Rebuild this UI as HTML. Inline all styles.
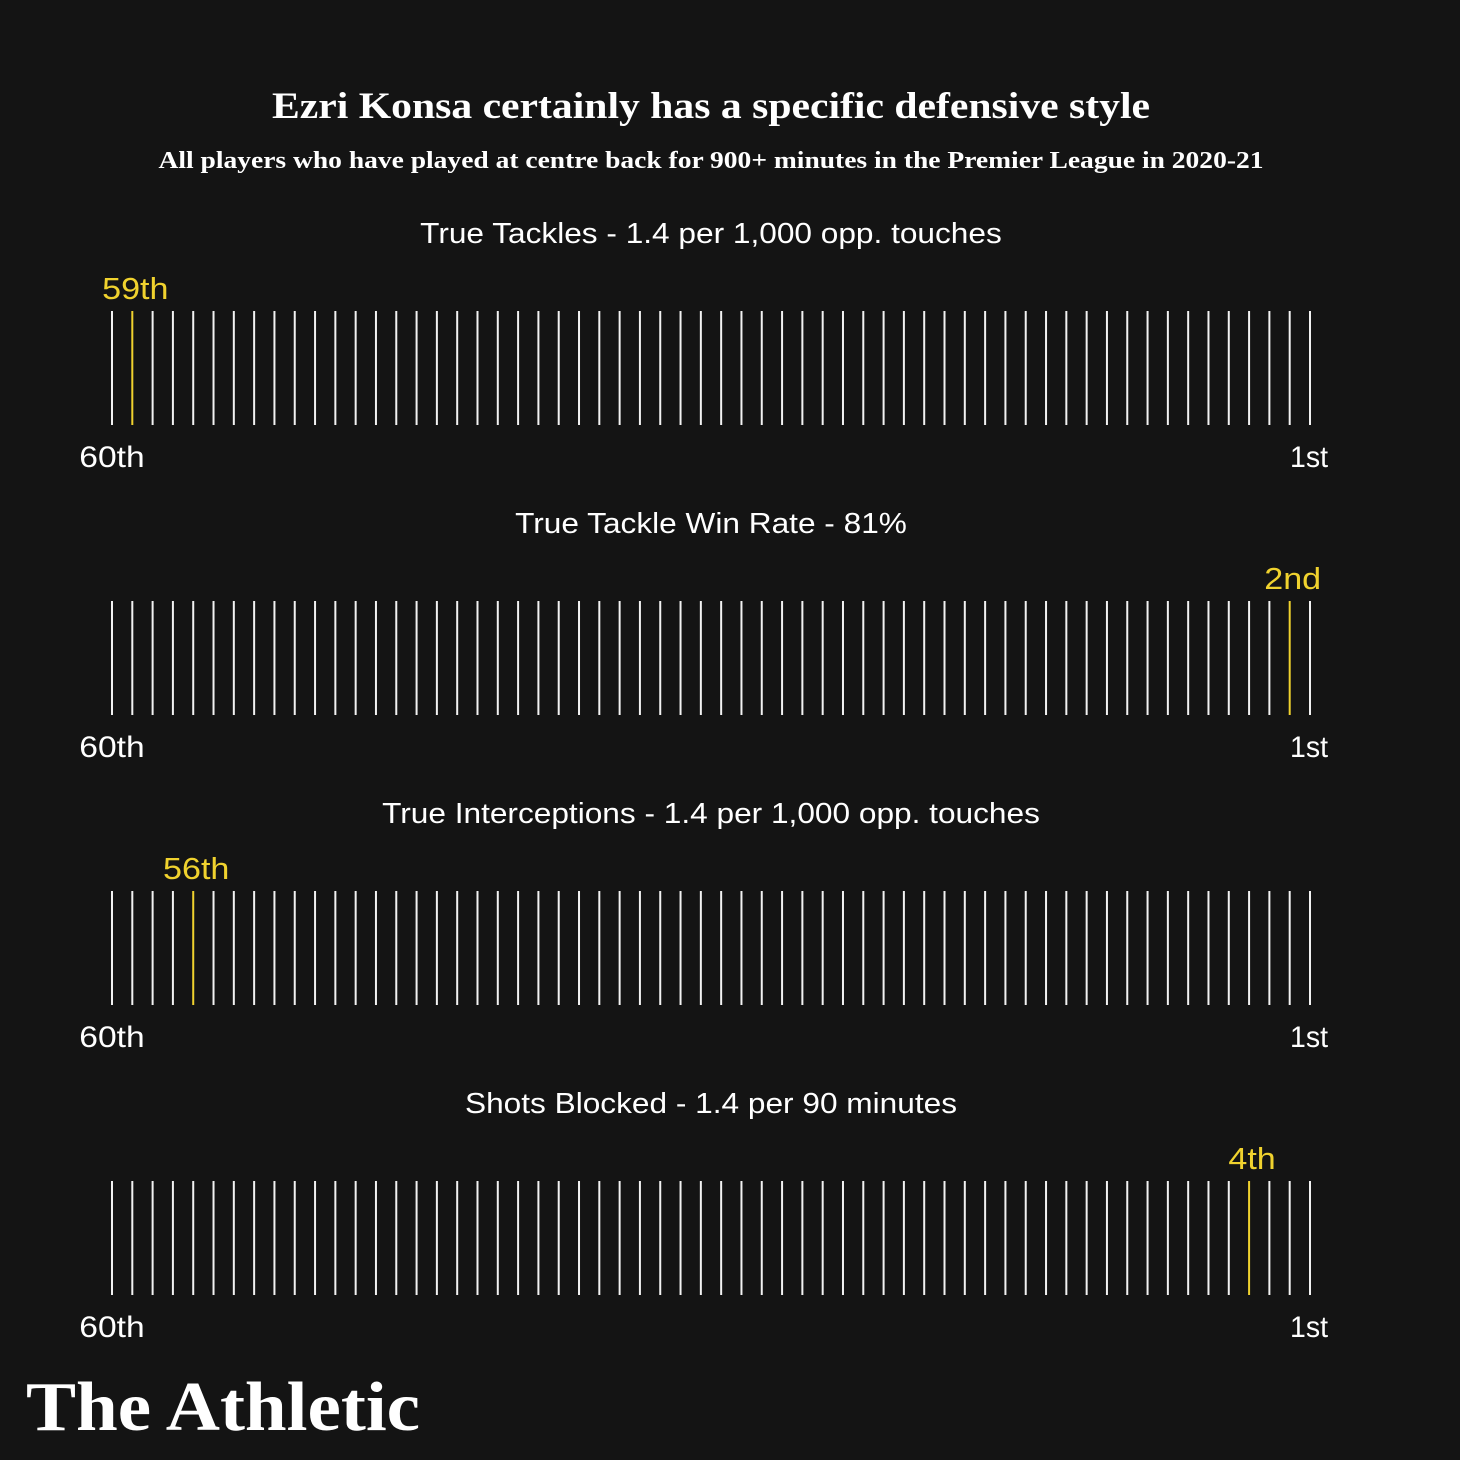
<!DOCTYPE html>
<html><head><meta charset="utf-8">
<style>
html,body{margin:0;padding:0;background:#141414;}
svg{display:block;}
</style></head>
<body>
<svg id="chart" width="1460" height="1460" viewBox="0 0 1460 1460" xmlns="http://www.w3.org/2000/svg">
<rect width="1460" height="1460" fill="#141414"/>
<text x="711" y="118" text-anchor="middle" font-family="'Liberation Serif',serif" font-weight="bold" font-size="37" fill="#fff" textLength="878" lengthAdjust="spacingAndGlyphs">Ezri Konsa certainly has a specific defensive style</text>
<text x="711" y="168" text-anchor="middle" font-family="'Liberation Serif',serif" font-weight="bold" font-size="24" fill="#fff" textLength="1105" lengthAdjust="spacingAndGlyphs">All players who have played at centre back for 900+ minutes in the Premier League in 2020-21</text>
<g id="panels"></g>
<text x="26" y="1430" font-family="'Liberation Serif',serif" font-weight="bold" font-size="70" fill="#fff" textLength="394" lengthAdjust="spacingAndGlyphs">The Athletic</text>
</svg>
<script>
const metrics = ["True Tackles - 1.4 per 1,000 opp. touches","True Tackle Win Rate - 81%","True Interceptions - 1.4 per 1,000 opp. touches","Shots Blocked - 1.4 per 90 minutes"];
const ranks = [59, 2, 56, 4];
const rankLabels = ["59th","2nd","56th","4th"];
const playerCount = 60;

const NS = "http://www.w3.org/2000/svg";
const g = document.getElementById('panels');
const x0 = 112, x1 = 1310;
function xScale(rank){ return x1 - (rank-1)*(x1-x0)/(playerCount-1); }
function mk(tag, attrs, text){
  const e = document.createElementNS(NS, tag);
  for (const k in attrs) e.setAttribute(k, attrs[k]);
  if (text) e.textContent = text;
  return e;
}
const font = "'Liberation Sans',sans-serif";
const yellow = "#f0d22e";
function fit(el, f){
  document.getElementById('chart').appendChild(el);
  const w = el.getComputedTextLength();
  el.setAttribute('textLength', (w*f).toFixed(1));
  el.setAttribute('lengthAdjust', 'spacingAndGlyphs');
}
metrics.forEach((m, i) => {
  const top = 311 + i*290;
  const panel = mk('g', {});
  
  
  g.appendChild(panel);
  const t = mk('text', {x:711, y:top-68, 'text-anchor':'middle', 'font-family':font, 'font-size':29, fill:'#fff'}, m);
  
  
  fit(t, 1.09); panel.appendChild(t);
  for (let r = 1; r <= playerCount; r++) {
    const hi = r === ranks[i];
    const x = xScale(r);
    const l = mk('line', {x1:x, x2:x, y1:top, y2:top+114, stroke: hi ? yellow : '#f2f2f2', 'stroke-width':2});
    
    
    panel.appendChild(l);
  }
  const rl = mk('text', {x:xScale(ranks[i])+3, y:top-12, 'text-anchor':'middle', 'font-family':font, 'font-size':31, fill:yellow}, rankLabels[i]);
  
  
  fit(rl, 1.1); panel.appendChild(rl);
  const a = mk('text', {x:112, y:top+156, 'text-anchor':'middle', 'font-family':font, 'font-size':30, fill:'#fff'}, '60th');
  
  
  fit(a, 1.12); panel.appendChild(a);
  const b = mk('text', {x:1309, y:top+156, 'text-anchor':'middle', 'font-family':font, 'font-size':30, fill:'#fff'}, '1st');
  
  
  fit(b, 0.95); panel.appendChild(b);
});
</script>
</body></html>
